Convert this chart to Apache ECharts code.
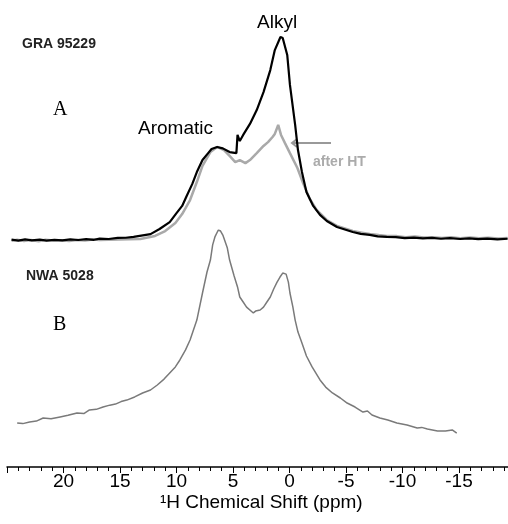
<!DOCTYPE html>
<html>
<head>
<meta charset="utf-8">
<script src="https://cdn.jsdelivr.net/npm/echarts@6/dist/echarts.min.js"></script>
<style>html,body{margin:0;padding:0;background:#fff}#c{width:508px;height:524px}</style>
</head>
<body>
<div id="c"></div>
<script>
// Chemical shift (ppm) and intensity (peak-normalised)
const ppmA_black = [24.6,24.0,23.4,22.8,22.1,21.5,20.8,20.1,19.4,18.7,18.0,17.3,16.8,16.0,15.2,14.5,13.8,12.3,11.5,10.6,10.0,9.5,9.1,8.6,8.2,7.7,7.2,6.9,6.4,5.9,5.3,4.7,4.6,4.4,4.1,3.5,2.9,2.3,1.7,1.3,0.8,0.6,0.2,-0.04,-0.5,-0.75,-1.1,-1.5,-2.1,-2.7,-3.3,-4.2,-5.6,-6.3,-7.1,-7.8,-8.6,-9.4,-10.2,-11.0,-11.8,-12.6,-13.4,-14.2,-15.1,-15.9,-16.7,-17.5,-18.4,-19.3];
const intA_black = [0.2,-0.3,0.3,-0.2,0.2,-0.3,0.1,-0.2,0.3,0.0,0.4,0.1,0.7,0.5,1.0,1.1,1.5,2.9,5.4,8.8,13.2,16.7,21.6,27.5,33.3,39.2,42.6,44.6,45.6,44.9,43.1,42.6,51.5,48.5,51.5,56.9,63.7,72.5,83.3,93.1,99.5,99.0,90.7,76.0,56.4,44.1,33.3,23.5,16.7,12.3,9.3,6.4,3.9,3.0,2.5,1.8,1.5,1.4,0.9,1.2,0.8,1.0,0.6,0.9,0.5,0.8,0.4,0.7,0.3,0.6];
const ppmA_gray = [24.6,24.1,23.5,22.9,22.2,21.6,20.9,20.2,19.5,18.8,18.1,17.4,16.8,16.0,15.1,14.2,13.2,11.9,11.0,10.1,9.5,8.8,8.2,7.7,7.0,6.4,5.8,5.3,4.8,4.4,3.9,3.5,2.9,2.3,1.9,1.5,1.3,1.0,0.75,0.4,-0.04,-0.7,-1.2,-1.8,-2.4,-3.3,-4.2,-5.6,-6.4,-7.1,-7.9,-8.6,-9.5,-10.3,-11.1,-11.9,-12.7,-13.5,-14.3,-15.1,-16.0,-16.8,-17.6,-18.5,-19.3];
const intA_gray = [-0.4,0.1,-0.5,0.0,-0.6,0.1,-0.3,-0.1,-0.5,0.0,-0.2,0.2,0.0,0.1,0.2,0.4,0.5,2.0,4.4,8.3,12.7,19.6,28.4,36.3,43.1,45.6,44.1,41.2,38.2,39.2,37.7,39.2,42.6,46.1,48.0,50.5,52.0,56.4,51.5,47.5,42.6,35.3,27.9,20.1,14.7,9.8,6.9,4.4,3.6,2.9,2.4,2.0,1.9,1.4,1.7,1.2,1.4,1.0,1.3,0.9,1.2,0.8,1.1,0.7,1.0];
const ppmB = [24.1,23.6,23.0,22.4,21.8,21.1,20.3,19.6,18.8,18.2,17.7,17.1,16.5,15.9,15.4,14.9,14.4,13.7,13.0,12.3,11.7,11.1,10.6,10.1,9.7,9.2,8.8,8.2,7.7,7.3,7.0,6.8,6.6,6.3,6.1,5.9,5.5,5.3,4.9,4.6,4.4,4.1,3.8,3.2,3.0,2.6,2.3,2.0,1.7,1.4,1.1,0.84,0.6,0.3,0.1,-0.04,-0.3,-0.5,-0.75,-1.1,-1.5,-2.0,-2.7,-3.2,-3.8,-4.5,-5.1,-5.8,-6.5,-6.9,-7.3,-8.0,-8.7,-9.5,-10.4,-11.3,-11.7,-12.2,-13.1,-13.8,-14.4,-14.8];
const intB = [8.1,7.8,8.6,9.0,10.5,10.1,11.0,11.8,12.9,12.6,14.3,14.6,15.7,16.6,17.1,18.3,19.0,20.5,22.4,23.8,26.2,29.0,31.9,34.8,38.1,42.9,47.6,57.1,70.0,80.0,85.7,92.9,96.7,100,99.5,97.6,91.4,85.7,78.1,72.9,68.1,65.7,63.3,60.5,61.4,61.9,63.3,65.7,68.1,71.9,75.2,77.6,79.5,79.0,75.2,70.0,63.3,57.1,51.4,46.2,40.0,34.8,28.6,25.2,22.4,20.0,17.6,15.7,13.3,13.8,11.9,10.5,9.5,8.1,7.1,5.7,6.0,5.2,4.3,4.3,4.8,3.3];
const xTickLabels = ['20','15','10','5','0','-5','-10','-15'];
const xTitle = '¹H Chemical Shift (ppm)';

const zip = (a, b) => a.map((v, i) => [v, b[i]]);
const FONT = 'Liberation Sans, Arial, sans-serif';

const chart = echarts.init(document.getElementById('c'), null, {renderer: 'canvas'});
chart.setOption({
  animation: false,
  backgroundColor: '#fff',
  grid: [
    {left: 7, width: 508.5, top: 36, height: 214.2, outerBoundsMode: 'none', containLabel: false},
    {left: 7, width: 508.5, top: 230, height: 210, outerBoundsMode: 'none', containLabel: false}
  ],
  xAxis: [
    {gridIndex: 0, type: 'value', min: -20, max: 25, inverse: true, show: false},
    {gridIndex: 1, type: 'value', min: -20, max: 25, interval: 5, inverse: true, offset: 27,
     axisLine: {show: true, onZero: false, lineStyle: {color: '#000', width: 1.5}},
     axisTick: {show: true, length: 6, lineStyle: {color: '#000', width: 1}},
     minorTick: {show: true, splitNumber: 5, length: 4, lineStyle: {color: '#000', width: 1}},
     splitLine: {show: false},
     axisLabel: {show: true, margin: 5, color: '#000', fontSize: 19, fontFamily: FONT,
       showMinLabel: false, showMaxLabel: false,
       formatter: v => xTickLabels.includes(String(v)) ? String(v) : ''},
     name: xTitle, nameLocation: 'middle', nameGap: 26,
     nameTextStyle: {color: '#000', fontSize: 19, fontFamily: FONT}
    }
  ],
  yAxis: [
    {gridIndex: 0, type: 'value', min: -5, max: 100, show: false},
    {gridIndex: 1, type: 'value', min: 0, max: 100, show: false}
  ],
  series: [
    {type: 'line', xAxisIndex: 0, yAxisIndex: 0, data: zip(ppmA_gray, intA_gray), showSymbol: false,
     lineStyle: {color: '#a9a9a9', width: 2.5}},
    {type: 'line', xAxisIndex: 0, yAxisIndex: 0, data: zip(ppmA_black, intA_black), showSymbol: false,
     lineStyle: {color: '#000', width: 2.2}},
    {type: 'line', xAxisIndex: 1, yAxisIndex: 1, data: zip(ppmB, intB), showSymbol: false,
     lineStyle: {color: '#7a7a7a', width: 1.5}}
  ],
  graphic: [
    {type: 'text', left: 22, top: 37, style: {text: 'GRA 95229', font: 'bold 14px ' + FONT, fill: '#222'}},
    {type: 'text', left: 53, top: 100, style: {text: 'A', font: '20px Liberation Serif, Times New Roman, serif', fill: '#000'}},
    {type: 'text', left: 138, top: 119, style: {text: 'Aromatic', font: '19px ' + FONT, fill: '#000'}},
    {type: 'text', left: 257, top: 13, style: {text: 'Alkyl', font: '19px ' + FONT, fill: '#000'}},
    {type: 'text', left: 313, top: 155, style: {text: 'after HT', font: 'bold 14px ' + FONT, fill: '#ababab'}},
    {type: 'line', shape: {x1: 292, y1: 143, x2: 331, y2: 143}, style: {stroke: '#999', lineWidth: 2}},
    {type: 'polyline', shape: {points: [[297, 139], [292, 143], [297, 147]]}, style: {stroke: '#999', lineWidth: 2, fill: null}},
    {type: 'text', left: 26, top: 269, style: {text: 'NWA 5028', font: 'bold 14px ' + FONT, fill: '#222'}},
    {type: 'text', left: 53, top: 315, style: {text: 'B', font: '20px Liberation Serif, Times New Roman, serif', fill: '#000'}}
  ]
});
</script>
</body>
</html>
